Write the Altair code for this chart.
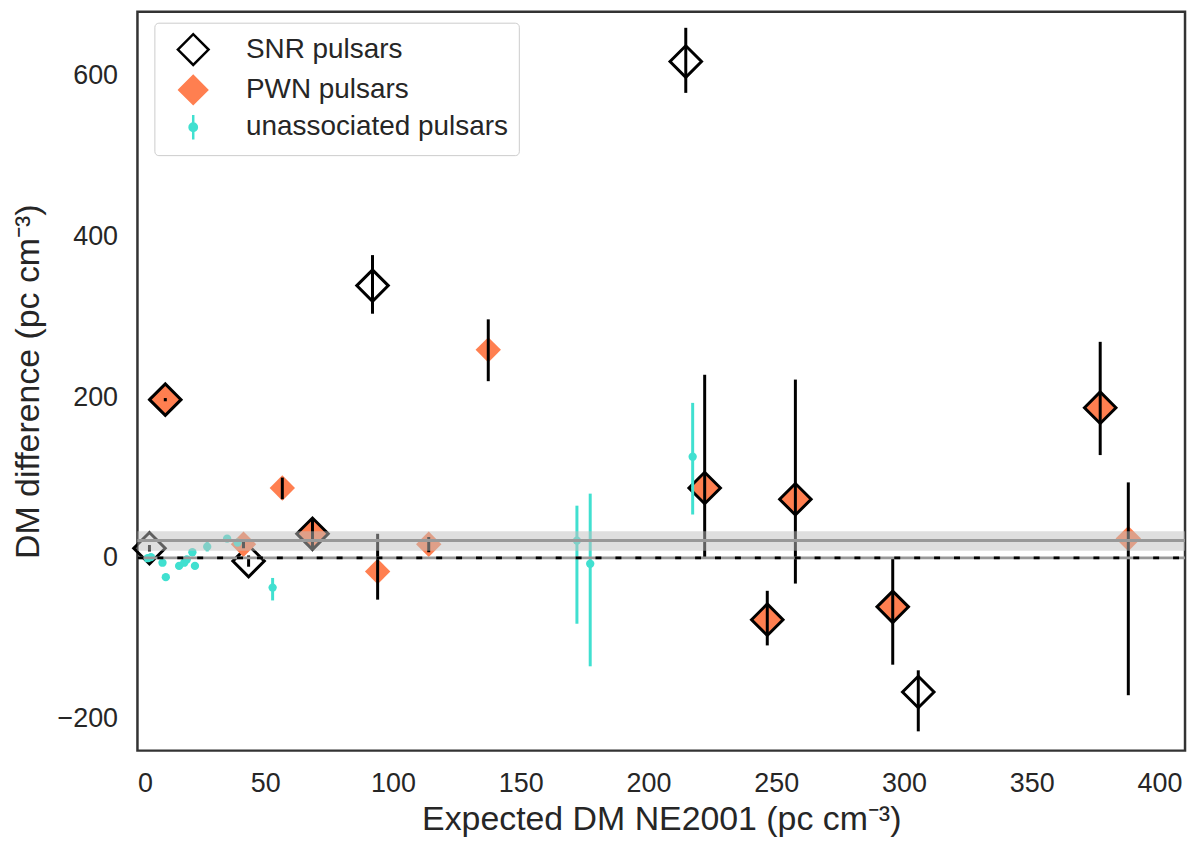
import altair as alt
import pandas as pd

# SNR pulsars (open diamonds)
snr_x = [4.7, 43.5, 92.0, 214.6, 305.6]
snr_y = [12, -4, 339, 618, -167]
snr_lo = [8, -11, 304, 579, -216]
snr_hi = [16, 3, 377, 660, -140]

# PWN pulsars that are also in SNRs (orange, black edge)
pwn_big_x = [10.9, 68.5, 222.0, 246.5, 257.5, 295.6, 376.8]
pwn_big_y = [197, 30, 87, -77, 73, -61, 187]
pwn_big_lo = [195, 11, 0, -109, -32, -133, 128]
pwn_big_hi = [199, 48, 228, -41, 222, 1, 269]

# PWN pulsars (orange, no edge)
pwn_x = [41.5, 56.7, 94.0, 114.0, 137.3, 387.8]
pwn_y = [17, 87, -17, 17, 259, 24]
pwn_lo = [12, 73, -52, 7, 220, -171]
pwn_hi = [22, 100, 30, 26, 297, 94]

# unassociated pulsars
un_x = [4.0, 5.3, 9.8, 11.1, 16.3, 18.3, 19.3, 21.5, 22.5, 27.3, 35.1, 39.2,
        52.9, 172.0, 177.2, 217.3]
un_y = [-0.4, 1, -6, -24, -10, -6, -2, 7, -10, 14, 24, 19, -37, 21.5, -7.4, 126]
un_lo = [-2, -1, -8, -26, -12, -8, -4, 5, -12, 8, 22, 17, -53, -82, -135, 54]
un_hi = [1, 3, -4, -22, -8, -4, 0, 9, -8, 20, 26, 21, -25, 65, 80, 193]

# mean offset and its uncertainty band
mean_dm = [21.5]
band_lo = [9]
band_hi = [33]

groups = ["SNR pulsars", "PWN pulsars", "unassociated pulsars"]

W, H = 1052, 742
CORAL = "#FF7F50"
TURQ = "#40E0D0"
FONT = "Liberation Sans"

snr = pd.DataFrame({"x": snr_x, "y": snr_y, "lo": snr_lo, "hi": snr_hi})
pwn_big = pd.DataFrame({"x": pwn_big_x, "y": pwn_big_y, "lo": pwn_big_lo, "hi": pwn_big_hi})
pwn = pd.DataFrame({"x": pwn_x, "y": pwn_y, "lo": pwn_lo, "hi": pwn_hi})
unas = pd.DataFrame({"x": un_x, "y": un_y, "lo": un_lo, "hi": un_hi})
band = pd.DataFrame({"m": mean_dm, "lo": band_lo, "hi": band_hi, "zero": [0]})
legend_df = pd.DataFrame({"group": groups, "x": [snr_x[0], pwn_x[0], un_x[0]],
                          "y": [snr_y[0], pwn_y[0], un_y[0]]})

xs = alt.Scale(domain=[0, 410], nice=False, zero=False)
ys = alt.Scale(domain=[-240, 680], nice=False, zero=False)
X = alt.X("x:Q", scale=xs, title="Expected DM NE2001 (pc cm⁻³)",
          axis=alt.Axis(values=[0, 50, 100, 150, 200, 250, 300, 350, 400]))
Y = alt.Y("y:Q", scale=ys, title="DM difference (pc cm⁻³)",
          axis=alt.Axis(values=[-200, 0, 200, 400, 600]))

snr_pts = alt.Chart(snr).mark_point(shape="diamond", size=1000, filled=False,
                                    stroke="black", strokeWidth=3, opacity=1).encode(x=X, y=Y)
snr_err = alt.Chart(snr).mark_rule(color="black", strokeWidth=3).encode(
    x="x:Q", y="lo:Q", y2="hi:Q")

pwn_big_pts = alt.Chart(pwn_big).mark_point(shape="diamond", size=1000, filled=True,
                                            fill=CORAL, stroke="black", strokeWidth=3,
                                            opacity=1).encode(x="x:Q", y="y:Q")
pwn_big_err = alt.Chart(pwn_big).mark_rule(color="black", strokeWidth=3).encode(
    x="x:Q", y="lo:Q", y2="hi:Q")

pwn_pts = alt.Chart(pwn).mark_point(shape="diamond", size=650, filled=True,
                                    fill=CORAL, strokeWidth=0, opacity=1).encode(x="x:Q", y="y:Q")
pwn_err = alt.Chart(pwn).mark_rule(color="black", strokeWidth=3).encode(
    x="x:Q", y="lo:Q", y2="hi:Q")

un_err = alt.Chart(unas).mark_rule(color=TURQ, strokeWidth=3).encode(
    x="x:Q", y="lo:Q", y2="hi:Q")
un_pts = alt.Chart(unas).mark_circle(color=TURQ, size=70, opacity=1).encode(x="x:Q", y="y:Q")

zero_grey = alt.Chart(band).mark_rule(color="#999999", strokeWidth=3).encode(
    y="zero:Q", x=alt.value(0), x2=alt.value(W))
zero_dash = alt.Chart(band).mark_rule(color="black", strokeWidth=3, strokeDash=[6, 14]).encode(
    y="zero:Q", x=alt.value(0), x2=alt.value(W))
band_rect = alt.Chart(band).mark_rect(color="#bfbfbf", opacity=0.5).encode(
    y="lo:Q", y2="hi:Q", x=alt.value(0), x2=alt.value(W))
mean_line = alt.Chart(band).mark_rule(color="#999999", strokeWidth=3).encode(
    y="m:Q", x=alt.value(0), x2=alt.value(W))

unas_path = "M0,-1L0,1M0.3,0A0.3,0.3 0 1,1 -0.3,0A0.3,0.3 0 1,1 0.3,0Z"
leg = alt.Legend(title=None, orient="none", legendX=17, legendY=11,
                 labelFontSize=28, labelFont=FONT, labelColor="#262626", labelLimit=0,
                 symbolOpacity=1, symbolStrokeWidth=2.5, padding=10, symbolOffset=12,
                 labelOffset=36, rowPadding=0, strokeColor="#cccccc", cornerRadius=4,
                 fillColor="white")
legend_layer = alt.Chart(legend_df).mark_point(opacity=0, filled=True).encode(
    x="x:Q", y="y:Q",
    shape=alt.Shape("group:N", sort=groups, legend=leg,
                    scale=alt.Scale(domain=groups, range=["diamond", "diamond", unas_path])),
    fill=alt.Fill("group:N", sort=groups, legend=leg,
                  scale=alt.Scale(domain=groups, range=["white", CORAL, TURQ])),
    stroke=alt.Stroke("group:N", sort=groups, legend=leg,
                      scale=alt.Scale(domain=groups, range=["black", CORAL, TURQ])),
    size=alt.Size("group:N", sort=groups, legend=leg,
                  scale=alt.Scale(domain=groups, range=[950, 600, 950])),
)

chart = alt.layer(
    legend_layer,
    snr_pts, snr_err,
    pwn_big_pts, pwn_pts, pwn_big_err, pwn_err,
    un_err, un_pts,
    zero_grey, zero_dash, band_rect, mean_line,
).properties(
    width=W, height=H,
    padding={"left": 3, "top": 2, "right": 5, "bottom": 5},
).configure_view(
    stroke="#333333", strokeWidth=2.5
).configure_axis(
    grid=False, ticks=False, domain=False,
    labelFont=FONT, titleFont=FONT,
    labelFontSize=27, titleFontSize=34, titleFontWeight="normal",
    labelColor="#262626", titleColor="#262626",
).configure_axisX(
    labelPadding=20, titlePadding=6
).configure_axisY(
    labelPadding=20, titlePadding=12
)

chart.save("out.html", embed_options={"renderer": "svg", "actions": False})
